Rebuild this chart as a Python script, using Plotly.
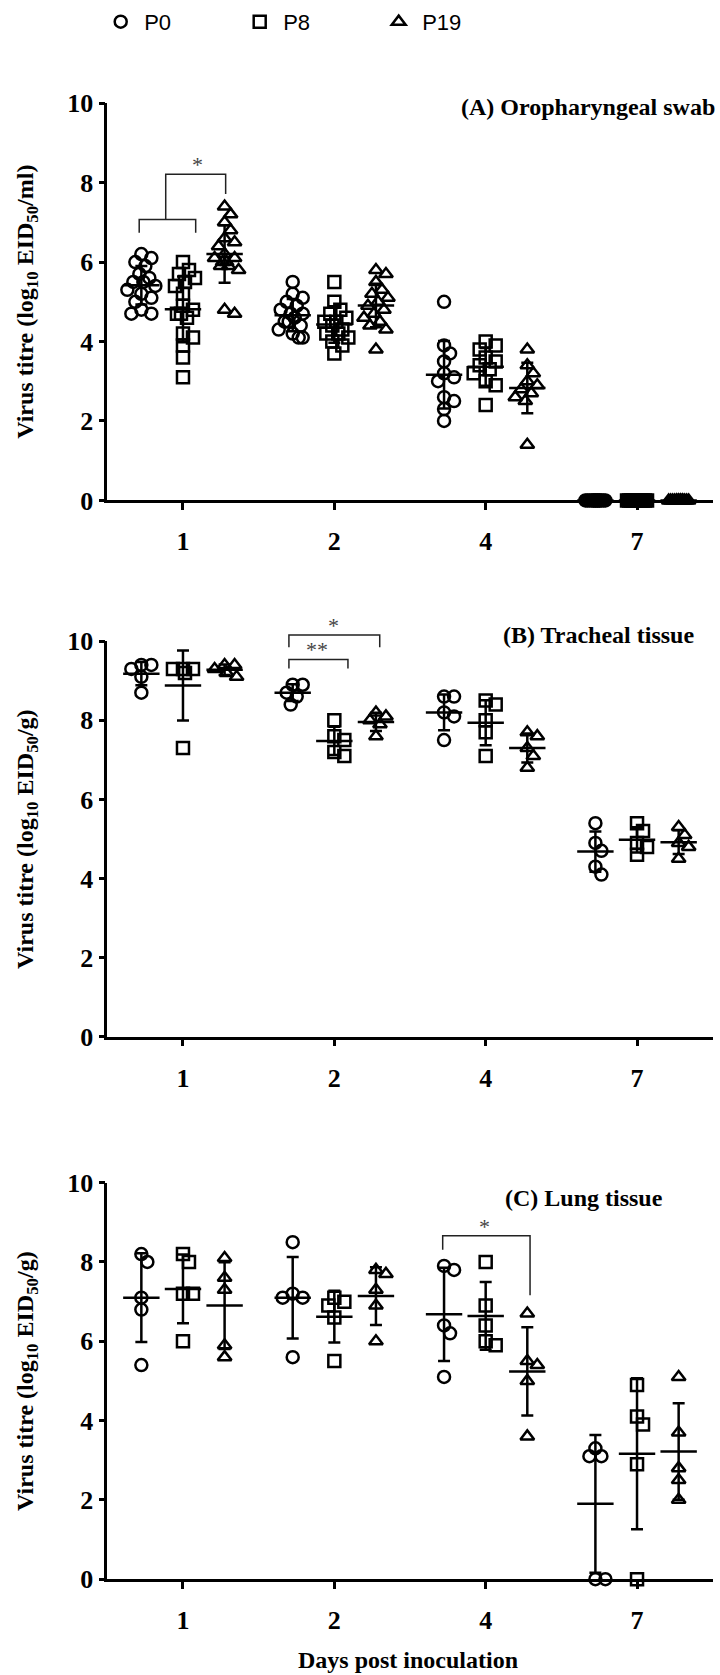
import numpy as np
import plotly.graph_objects as go

W, H = 720, 1675

days = ["1", "2", "4", "7"]
groups = ["P0", "P8", "P19"]
symbols = ["circle-open", "square-open", "triangle-up-open"]
y_ticks = [0, 2, 4, 6, 8, 10]

# (A) Oropharyngeal swab, log10 EID50/ml — one list per day (1, 2, 4, 7)
swab_p0 = [
    [6.2, 6.1, 6.0, 5.9, 5.7, 5.6, 5.5, 5.5, 5.4, 5.3, 5.2, 5.1, 5.0, 4.8, 4.7, 4.7],
    [5.5, 5.2, 5.1, 5.0, 4.9, 4.8, 4.7, 4.7, 4.6, 4.5, 4.5, 4.4, 4.3, 4.2, 4.1, 4.1],
    [5.0, 3.9, 3.7, 3.5, 3.2, 3.1, 3.0, 2.6, 2.5, 2.3, 2.0],
    [0, 0, 0, 0, 0, 0, 0, 0, 0, 0, 0, 0, 0, 0, 0],
]
swab_p8 = [
    [6.0, 5.8, 5.7, 5.6, 5.5, 5.4, 5.2, 4.9, 4.8, 4.7, 4.7, 4.6, 4.2, 4.1, 3.9, 3.6, 3.1],
    [5.5, 5.0, 4.8, 4.7, 4.6, 4.5, 4.5, 4.4, 4.3, 4.2, 4.2, 4.1, 4.0, 3.9, 3.7],
    [4.0, 3.9, 3.8, 3.6, 3.5, 3.4, 3.3, 3.2, 3.0, 2.9, 2.4],
    [0, 0, 0, 0, 0, 0, 0, 0, 0, 0, 0, 0, 0, 0, 0],
]
swab_p19 = [
    [7.4, 7.2, 7.0, 6.8, 6.6, 6.5, 6.4, 6.2, 6.1, 6.1, 6.0, 6.0, 5.9, 5.9, 5.8, 4.8, 4.7],
    [5.8, 5.7, 5.5, 5.3, 5.2, 5.1, 5.0, 4.9, 4.8, 4.7, 4.6, 4.5, 4.4, 4.3, 3.8],
    [3.8, 3.4, 3.2, 3.0, 2.9, 2.8, 2.7, 2.6, 2.5, 1.4],
    [0, 0, 0, 0, 0, 0, 0, 0, 0, 0, 0, 0, 0, 0, 0],
]

# (B) Tracheal tissue, log10 EID50/g
trachea_p0 = [
    [9.4, 9.4, 9.3, 9.1, 8.7],
    [8.9, 8.9, 8.7, 8.6, 8.4],
    [8.6, 8.6, 8.2, 8.1, 7.5],
    [5.4, 4.9, 4.7, 4.3, 4.1],
]
trachea_p8 = [
    [9.3, 9.3, 9.3, 9.2, 7.3],
    [8.0, 7.6, 7.5, 7.2, 7.1],
    [8.5, 8.4, 8.0, 7.7, 7.1],
    [5.4, 5.2, 4.9, 4.8, 4.6],
]
trachea_p19 = [
    [9.4, 9.4, 9.3, 9.2, 9.1],
    [8.2, 8.1, 8.0, 7.9, 7.6],
    [7.7, 7.6, 7.3, 7.1, 6.8],
    [5.3, 5.1, 4.9, 4.8, 4.5],
]

# (C) Lung tissue, log10 EID50/g
lung_p0 = [
    [8.2, 8.0, 7.1, 6.8, 5.4],
    [8.5, 7.2, 7.1, 7.1, 5.6],
    [7.9, 7.8, 6.4, 6.2, 5.1],
    [3.3, 3.1, 3.1, 0, 0],
]
lung_p8 = [
    [8.2, 8.0, 7.2, 7.2, 6.0],
    [7.1, 7.0, 6.9, 6.6, 5.5],
    [8.0, 6.9, 6.4, 6.0, 5.9],
    [4.9, 4.1, 3.9, 2.9, 0],
]
lung_p19 = [
    [8.1, 7.6, 7.3, 5.9, 5.6],
    [7.8, 7.7, 7.3, 6.9, 6.0],
    [6.7, 5.5, 5.4, 5.0, 3.6],
    [5.1, 3.7, 2.8, 2.5, 2.0],
]

panels = [
    ("(A) Oropharyngeal swab", "ml", [swab_p0, swab_p8, swab_p19]),
    ("(B) Tracheal tissue", "g", [trachea_p0, trachea_p8, trachea_p19]),
    ("(C) Lung tissue", "g", [lung_p0, lung_p8, lung_p19]),
]

# Significance brackets: panel, corner points (category-axis x, titre y), label, label anchor
brackets = [
    (0, [(0.711, 6.74), (0.711, 7.07), (1.084, 7.07), (1.084, 6.74)], None, None),
    (0, [(0.886, 7.07), (0.886, 8.21), (1.282, 8.21), (1.282, 7.71)], "*", (1.097, 8.21)),
    (1, [(1.70, 9.85), (1.70, 10.16), (2.30, 10.16), (2.30, 9.85)], "*", (1.994, 10.16)),
    (1, [(1.70, 9.31), (1.70, 9.54), (2.09, 9.54), (2.09, 9.31)], "**", (1.888, 9.54)),
    (2, [(2.716, 8.31), (2.716, 8.66), (3.293, 8.66), (3.293, 7.16)], "*", (2.989, 8.66)),
]

# ---- layout geometry ----
x_dom = [107.3 / W, 712.7 / W]
y_doms = [
    [(H - 495.0) / H, (H - 90.7) / H],
    [(H - 1040.7) / H, (H - 638.3) / H],
    [(H - 1592.7) / H, (H - 1189.3) / H],
]
x_range = [0.5, 4.5]
y_range = [0, 10]
group_offset = [-0.275, 0.0, 0.275]
px_per_x = W * (x_dom[1] - x_dom[0]) / (x_range[1] - x_range[0])


def to_dx(x):
    return (x - x_range[0]) / (x_range[1] - x_range[0])


def to_dy(y):
    return (y - y_range[0]) / (y_range[1] - y_range[0])


def swarm(values, px_x, px_y, min_gap=9.5, limit=14.0, step=2.0):
    """Horizontal offsets (axis units) so that close points sit side by side."""
    order = sorted(range(len(values)), key=lambda i: -values[i])
    cands = [0.0]
    k = 1
    while k * step <= limit:
        cands += [k * step, -k * step]
        k += 1
    near = [c for c in cands if abs(c) <= min_gap]
    used = {c: 0 for c in cands}
    placed = []
    offsets = [0.0] * len(values)
    for i in order:
        yp = values[i] * px_y
        chosen = None
        for c in cands:
            if all((c - a) ** 2 + (yp - b) ** 2 >= min_gap ** 2 for a, b in placed):
                chosen = c
                break
        if chosen is None:
            chosen = min(near, key=lambda c: (used[c], abs(c)))
        used[chosen] += 1
        placed.append((chosen, yp))
        offsets[i] = chosen / px_x
    return offsets


SERIF = "Liberation Serif"
fig = go.Figure()

for p, (title, unit, series) in enumerate(panels):
    xa = "x" if p == 0 else f"x{p + 1}"
    ya = "y" if p == 0 else f"y{p + 1}"
    px_per_y = H * (y_doms[p][1] - y_doms[p][0]) / (y_range[1] - y_range[0])
    for g, data in enumerate(series):
        xs, ys = [], []
        means, sds, centers = [], [], []
        for d, vals in enumerate(data):
            center = d + 1 + group_offset[g]
            offs = swarm(vals, px_per_x, px_per_y)
            xs += [center + o for o in offs]
            ys += list(vals)
            centers.append(center)
            means.append(float(np.mean(vals)))
            sds.append(float(np.std(vals, ddof=1)))
        fig.add_trace(go.Scatter(
            x=xs, y=ys, mode="markers", xaxis=xa, yaxis=ya,
            name=groups[g], legendgroup=groups[g], showlegend=(p == 0),
            cliponaxis=False,
            marker=dict(symbol=symbols[g], size=12, color="black",
                        line=dict(width=2.5, color="black")),
        ))
        fig.add_trace(go.Scatter(
            x=centers, y=means, mode="markers", xaxis=xa, yaxis=ya,
            showlegend=False, cliponaxis=False, legendgroup=groups[g],
            marker=dict(symbol="line-ew", size=26, color="black",
                        line=dict(width=2.5, color="black")),
            error_y=dict(type="data", array=sds, symmetric=True,
                         width=6, thickness=2.5, color="black"),
        ))

    sfx = "" if p == 0 else str(p + 1)
    fig.update_layout({
        f"xaxis{sfx}": dict(
            domain=x_dom, range=x_range, anchor=ya,
            tickvals=[1, 2, 3, 4], ticktext=days,
            showline=True, linewidth=2.5, linecolor="black",
            ticks="outside", ticklen=7, tickwidth=2.5, tickcolor="black",
            ticklabelstandoff=9,
            showgrid=False, zeroline=False,
            tickfont=dict(family=SERIF, size=26, color="black", weight="bold"),
        ),
        f"yaxis{sfx}": dict(
            domain=y_doms[p], range=y_range, anchor=xa,
            tickvals=y_ticks,
            showline=True, linewidth=2.5, linecolor="black",
            ticks="outside", ticklen=6, tickwidth=2.5, tickcolor="black",
            showgrid=False, zeroline=False,
            tickfont=dict(family=SERIF, size=26, color="black", weight="bold"),
        ),
    })

    y_mid = (y_doms[p][0] + y_doms[p][1]) / 2
    fig.add_annotation(
        xref="paper", yref="paper", x=27 / W, y=y_mid,
        text=f"<b>Virus titre (log<sub>10</sub> EID<sub>50</sub>/{unit})</b>",
        textangle=-90, showarrow=False, xanchor="center", yanchor="middle",
        font=dict(family=SERIF, size=24, color="black"),
    )

# Panel titles
title_pos = [(717, 95), (696, 632), (665, 1205)]
for p, (title, _, _) in enumerate(panels):
    tx, ty = title_pos[p]
    fig.add_annotation(
        xref="paper", yref="paper", x=tx / W, y=(H - ty) / H,
        text=f"<b>{title}</b>", showarrow=False,
        xanchor="right", yanchor="middle",
        font=dict(family=SERIF, size=24, color="black"),
    )

# Brackets and significance stars
for p, pts, label, spos in brackets:
    xa = "x" if p == 0 else f"x{p + 1}"
    ya = "y" if p == 0 else f"y{p + 1}"
    path = " ".join(
        ("M" if i == 0 else "L") + f" {to_dx(x):.4f},{to_dy(y):.4f}"
        for i, (x, y) in enumerate(pts)
    )
    fig.add_shape(type="path", path=path, xref=f"{xa} domain", yref=f"{ya} domain",
                  line=dict(color="#222222", width=1.5))
    if label:
        fig.add_annotation(
            x=to_dx(spos[0]), y=to_dy(spos[1]),
            xref=f"{xa} domain", yref=f"{ya} domain", text=label, showarrow=False,
            xanchor="center", yanchor="bottom", yshift=-5,
            font=dict(family=SERIF, size=22, color="#444444"),
        )

# Shared x-axis title
fig.add_annotation(
    xref="paper", yref="paper", x=408 / W, y=0,
    text="<b>Days post inoculation</b>", showarrow=False,
    xanchor="center", yanchor="middle",
    font=dict(family=SERIF, size=24, color="black"),
)

fig.update_layout(
    width=W, height=H,
    margin=dict(l=0, r=0, t=0, b=0),
    paper_bgcolor="white", plot_bgcolor="white",
    showlegend=True,
    legend=dict(
        orientation="h", x=0.135, y=1.008, xanchor="left", yanchor="top",
        font=dict(family="Liberation Sans", size=22, color="black"),
        entrywidth=87, entrywidthmode="pixels", itemwidth=37,
        bgcolor="rgba(0,0,0,0)",
    ),
)

fig.write_html("out.html")
